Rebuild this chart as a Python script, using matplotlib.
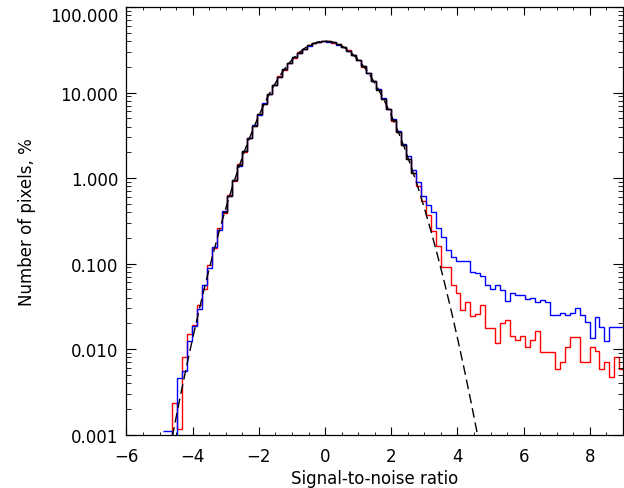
import matplotlib

matplotlib.use("Agg")
import matplotlib.pyplot as plt
import numpy as np
from matplotlib.ticker import FixedLocator, LogLocator, NullFormatter

# histogram bins: width 0.15, first left edge at -4.91 (93 bins)
bin_width = 0.15
first_edge = -4.91
n_bins = 93

red_counts = [
    1e-6, 1e-6, 0.00234, 0.00116, 0.0081, 0.0150, 0.019, 0.033, 0.051, 0.097,
    0.150, 0.262, 0.392, 0.640, 0.93, 1.45, 2.02, 2.97, 4.05, 5.62,
    7.35, 9.70, 12.2, 15.4, 18.5, 22.3, 25.6, 29.5, 32.4, 35.6,
    37.5, 39.4, 39.7, 39.8, 38.3, 36.8, 33.8, 31.1, 27.2, 24.0,
    20.1, 16.9, 13.5, 10.9, 8.33, 6.45, 4.68, 3.47, 2.41, 1.67,
    1.14, 0.80, 0.542, 0.369, 0.242, 0.161, 0.090, 0.090, 0.0567, 0.0452,
    0.0289, 0.0352, 0.0241, 0.0256, 0.0327, 0.0175, 0.0175, 0.0117, 0.0200, 0.0220,
    0.0141, 0.0127, 0.0141, 0.0105, 0.0127, 0.0164, 0.0093, 0.0093, 0.0093, 0.0058,
    0.0070, 0.0105, 0.0139, 0.0139, 0.0070, 0.0070, 0.0105, 0.0095, 0.0058, 0.0070,
    0.0047, 0.0081, 0.0058,
]

blue_counts = [
    0.00111, 0.00111, 1e-6, 0.00454, 0.00557, 0.0125, 0.0185, 0.029, 0.056, 0.089,
    0.158, 0.245, 0.410, 0.610, 0.960, 1.39, 2.09, 2.90, 4.12, 5.52,
    7.45, 9.58, 12.4, 15.2, 18.7, 22.0, 25.9, 29.2, 32.7, 35.3,
    37.8, 39.1, 39.9, 39.5, 38.6, 36.4, 34.2, 30.7, 27.6, 23.7,
    20.4, 16.7, 13.8, 10.9, 8.55, 6.50, 4.85, 3.55, 2.50, 1.80,
    1.25, 0.90, 0.62, 0.48, 0.40, 0.260, 0.202, 0.145, 0.118, 0.108,
    0.108, 0.106, 0.080, 0.0775, 0.0719, 0.0561, 0.0504, 0.0561, 0.0496, 0.0361,
    0.0452, 0.0429, 0.0429, 0.0385, 0.0392, 0.0352, 0.0374, 0.0355, 0.0250, 0.0250,
    0.0262, 0.0250, 0.0262, 0.0302, 0.0250, 0.0205, 0.0135, 0.0235, 0.0180, 0.0125,
    0.0180, 0.0180, 0.0180,
]

# black histogram only covers the core (bins 12 .. 50 of the common grid)
black_first_bin = 12
black_counts = [
    0.40, 0.62, 0.95, 1.41, 2.06, 2.93, 4.08, 5.56, 7.41, 9.64,
    12.3, 15.3, 18.6, 22.1, 25.8, 29.3, 32.6, 35.5, 37.7, 39.2,
    39.9, 39.6, 38.5, 36.6, 34.0, 30.9, 27.4, 23.8, 20.2, 16.8,
    13.6, 10.8, 8.40, 6.38, 4.73, 3.43, 2.43, 1.69, 1.15,
]

# dashed gaussian reference curve
gauss_x = [
    -4.7, -4.6, -4.4, -4.2, -4.0, -3.8, -3.6, -3.4, -3.2, -3.0, -2.8, -2.6, -2.4,
    -2.2, -2.0, -1.8, -1.6, -1.4, -1.2, -1.0, -0.8, -0.6, -0.4, -0.2, 0.0,
    0.2, 0.4, 0.6, 0.8, 1.0, 1.2, 1.4, 1.6, 1.8, 2.0, 2.2, 2.4, 2.6, 2.8,
    3.0, 3.2, 3.4, 3.6, 3.8, 4.0, 4.2, 4.4, 4.6, 4.7,
]
gauss_y = [
    0.00064, 0.001014, 0.002494, 0.005896, 0.01338, 0.0292, 0.0612, 0.1232, 0.2384,
    0.4432, 0.7915, 1.358, 2.239, 3.547, 5.399, 7.895, 11.09, 14.97, 19.42, 24.20,
    28.97, 33.32, 36.82, 39.10, 39.89,
    39.10, 36.82, 33.32, 28.97, 24.20, 19.42, 14.97, 11.09, 7.895, 5.399, 3.547,
    2.239, 1.358, 0.7915, 0.4432, 0.2384, 0.1232, 0.0612, 0.0292, 0.01338,
    0.005896, 0.002494, 0.001014, 0.00064,
]

edges = first_edge + bin_width * np.arange(n_bins + 1)
black_edges = edges[black_first_bin:black_first_bin + len(black_counts) + 1]

plt.rcParams["font.family"] = ["DejaVu Sans"]
fig = plt.figure(figsize=(6.24, 4.89), dpi=100)
ax = fig.add_axes([0.2027, 0.1094, 0.7957, 0.8742])

ax.stairs(red_counts, edges, color="#ff0000", lw=1.0, baseline=None)
ax.stairs(blue_counts, edges, color="#0000ff", lw=1.0, baseline=None)
ax.stairs(black_counts, black_edges, color="black", lw=1.0, baseline=None)
ax.plot(gauss_x, gauss_y, color="black", lw=1.0, dashes=(7, 3.5))

ax.set_yscale("log")
ax.set_xlim(-6, 9)
ax.set_ylim(0.001, 100)

ax.set_xticks(np.arange(-6, 9, 2))
ax.xaxis.set_minor_locator(FixedLocator(np.arange(-6, 9.01, 0.5)))
ax.yaxis.set_minor_locator(LogLocator(base=10, subs=np.arange(2, 10), numticks=20))
ax.yaxis.set_minor_formatter(NullFormatter())
ax.set_yticks([0.001, 0.01, 0.1, 1, 10, 100])
ax.set_yticklabels(["0.001", "0.010", "0.100", "1.000", "10.000", "100.000"])
ax.set_xticklabels(["\u22126", "\u22124", "\u22122", "0", "2", "4", "6", "8"])
# topmost label sits just below the frame edge, as in the original
ax.get_yticklabels()[-1].set_verticalalignment("top")

ax.tick_params(axis="both", which="both", direction="in", top=True, right=True,
               labelsize=12, colors="black")
ax.tick_params(axis="x", which="major", length=6, pad=9)
ax.tick_params(axis="x", which="minor", length=2.5)
ax.tick_params(axis="y", which="major", length=7, pad=6)
ax.tick_params(axis="y", which="minor", length=3.6)
for spine in ax.spines.values():
    spine.set_linewidth(0.9)

ax.set_xlabel("Signal-to-noise ratio", fontsize=12, labelpad=3)
ax.set_ylabel("Number of pixels, %", fontsize=12, labelpad=10)

fig.savefig("out.png", dpi=100)
